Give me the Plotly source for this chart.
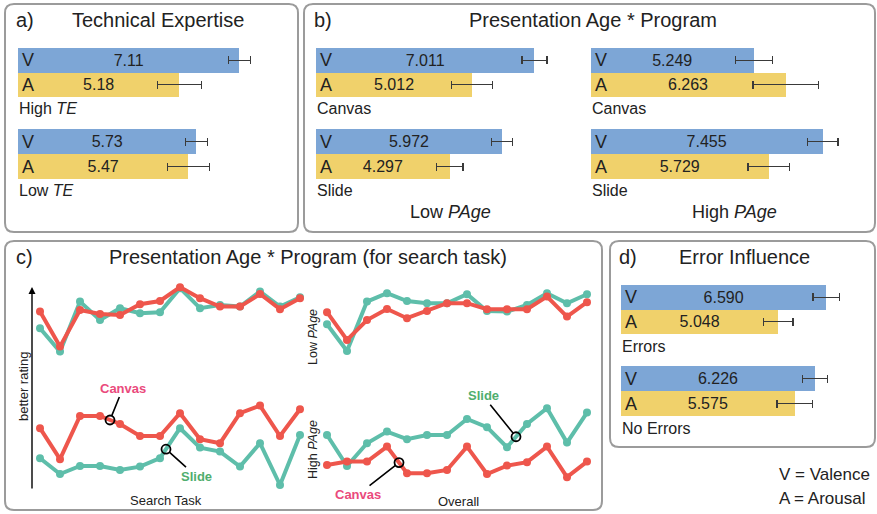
import numpy as np
import plotly.graph_objects as go

# ---------------- DATA ----------------
te_groups = ["High <i>TE</i>", "Low <i>TE</i>"]
te_valence = [7.11, 5.73]
te_arousal = [5.18, 5.47]
te_valence_err = [0.35, 0.35]
te_arousal_err = [0.70, 0.68]

page_programs = ["Canvas", "Slide"]
low_page_valence = [7.011, 5.972]
low_page_arousal = [5.012, 4.297]
low_page_valence_err = [0.40, 0.33]
low_page_arousal_err = [0.66, 0.42]
high_page_valence = [5.249, 7.455]
high_page_arousal = [6.263, 5.729]
high_page_valence_err = [0.60, 0.49]
high_page_arousal_err = [1.05, 0.67]

err_groups = ["Errors", "No Errors"]
err_valence = [6.590, 6.226]
err_arousal = [5.048, 5.575]
err_valence_err = [0.43, 0.41]
err_arousal_err = [0.47, 0.57]

tasks = list(range(1, 15))
search_low_slide = [8.59, 7.42, 9.92, 9.00, 9.59, 9.34, 9.39, 10.59, 9.59, 9.75, 9.67, 10.42, 9.67, 10.14]
search_low_canvas = [9.42, 7.67, 9.50, 9.30, 9.25, 9.79, 9.95, 10.64, 10.09, 9.67, 9.67, 10.30, 9.54, 10.09]
search_high_slide = [2.09, 1.30, 1.70, 1.70, 1.50, 1.67, 2.09, 3.59, 2.62, 2.42, 1.67, 2.84, 0.75, 3.25]
search_high_canvas = [3.59, 2.04, 4.20, 4.20, 3.80, 3.20, 3.20, 4.34, 3.04, 2.84, 4.34, 4.72, 3.20, 4.54]

overall_low_slide = [8.79, 7.45, 9.92, 10.34, 9.95, 9.84, 9.84, 10.29, 9.45, 9.42, 9.75, 10.34, 9.84, 10.29]
overall_low_canvas = [9.39, 8.00, 9.00, 9.55, 9.09, 9.45, 9.84, 9.84, 9.54, 9.54, 9.54, 10.17, 9.17, 9.89]
overall_high_slide = [3.25, 1.70, 2.84, 3.42, 3.04, 3.25, 3.25, 4.05, 3.64, 2.64, 3.80, 4.59, 2.87, 4.37]
overall_high_canvas = [1.75, 1.92, 1.92, 2.67, 1.34, 1.34, 1.50, 2.67, 1.30, 1.72, 1.89, 2.67, 1.14, 1.92]

# ---------------- STYLE ----------------
W, H = 877, 514
FONT = "Liberation Sans, Arial, Helvetica, sans-serif"
TXT = "#222222"
BLUE = "#7da6d6"
YELLOW = "#f0d16b"
TEAL = "#5ebeaa"
RED = "#ee564c"
PINK = "#ea4a7c"
GREEN = "#4fae6e"
BORDER = "#9b9b9b"
PXU = 31.15  # pixels per rating unit for the bar panels


def X(x):
    return x / W


def Y(y):
    return 1 - y / H


fig = go.Figure()
layout = {}
annotations = []
shapes = []
n_ax = [0]


def rrect(x0, y0, x1, y1, r=9):
    return (f"M {X(x0+r)},{Y(y0)} L {X(x1-r)},{Y(y0)} Q {X(x1)},{Y(y0)} {X(x1)},{Y(y0+r)} "
            f"L {X(x1)},{Y(y1-r)} Q {X(x1)},{Y(y1)} {X(x1-r)},{Y(y1)} "
            f"L {X(x0+r)},{Y(y1)} Q {X(x0)},{Y(y1)} {X(x0)},{Y(y1-r)} "
            f"L {X(x0)},{Y(y0+r)} Q {X(x0)},{Y(y0)} {X(x0+r)},{Y(y0)} Z")


def new_axes():
    n_ax[0] += 1
    n = n_ax[0]
    sfx = "" if n == 1 else str(n)
    return n, "x" + sfx, "y" + sfx, "xaxis" + sfx, "yaxis" + sfx


def text(x, y, s, size=16, xanchor="left", color=TXT, angle=0, xref="paper", yref="paper"):
    annotations.append(dict(x=x, y=y, xref=xref, yref=yref, text=s, showarrow=False,
                            xanchor=xanchor, yanchor="middle", textangle=angle,
                            font=dict(family=FONT, size=size, color=color)))


def bar_group(x0, x1, y0, y1, v, a, ve, ae, dec, label, label_y):
    n, xa, ya, xk, yk = new_axes()
    fig.add_trace(go.Bar(
        y=["V", "A"], x=[v, a], orientation="h", width=[1, 1],
        marker=dict(color=[BLUE, YELLOW], line=dict(width=0)),
        error_x=dict(type="data", array=[ve, ae], color="#3a3a3a", thickness=1.3, width=4),
        text=[f"{v:.{dec}f}", f"{a:.{dec}f}"], textposition="inside",
        insidetextanchor="middle", textangle=0,
        textfont=dict(family=FONT, size=16, color=TXT),
        xaxis=xa, yaxis=ya, showlegend=False, hoverinfo="skip"))
    layout[xk] = dict(domain=[X(x0), X(x1)], range=[0, (x1 - x0) / PXU], visible=False,
                      anchor=ya, fixedrange=True)
    layout[yk] = dict(domain=[Y(y1), Y(y0)], range=[1.5, -0.5], visible=False,
                      anchor=xa, fixedrange=True, type="category")
    for c in ["V", "A"]:
        annotations.append(dict(x=0, y=c, xref=xa, yref=ya, text=c, showarrow=False,
                                xanchor="left", yanchor="middle", xshift=2,
                                font=dict(family=FONT, size=18, color=TXT)))
    text(X(x0 - 1), Y(label_y), label, size=16)


# ---------------- PANEL BOXES ----------------
for bx in [(5, 4, 298, 232), (304, 4, 875, 232), (5, 241, 602, 510), (610, 241, 875, 447)]:
    shapes.append(dict(type="path", path=rrect(*bx), xref="paper", yref="paper",
                       line=dict(color=BORDER, width=2), fillcolor="white", layer="below"))

# ---------------- PANEL a ----------------
text(X(14), Y(20), "a)", size=20)
text(X(158), Y(20), "Technical Expertise", size=20, xanchor="center")
bar_group(18, 292, 48, 97, te_valence[0], te_arousal[0], te_valence_err[0], te_arousal_err[0], 2, te_groups[0], 108)
bar_group(18, 292, 129, 179, te_valence[1], te_arousal[1], te_valence_err[1], te_arousal_err[1], 2, te_groups[1], 190)

# ---------------- PANEL b ----------------
text(X(312), Y(20), "b)", size=20)
text(X(593), Y(20), "Presentation Age * Program", size=20, xanchor="center")
bar_group(316, 585, 48, 97, low_page_valence[0], low_page_arousal[0], low_page_valence_err[0], low_page_arousal_err[0], 3, page_programs[0], 108)
bar_group(316, 585, 129, 179, low_page_valence[1], low_page_arousal[1], low_page_valence_err[1], low_page_arousal_err[1], 3, page_programs[1], 190)
bar_group(590.5, 868, 48, 97, high_page_valence[0], high_page_arousal[0], high_page_valence_err[0], high_page_arousal_err[0], 3, page_programs[0], 108)
bar_group(590.5, 868, 129, 179, high_page_valence[1], high_page_arousal[1], high_page_valence_err[1], high_page_arousal_err[1], 3, page_programs[1], 190)
text(X(450), Y(212), "Low <i>PAge</i>", size=18, xanchor="center")
text(X(734), Y(212), "High <i>PAge</i>", size=18, xanchor="center")

# ---------------- PANEL d ----------------
text(X(617), Y(257), "d)", size=20)
text(X(744), Y(257), "Error Influence", size=20, xanchor="center")
bar_group(621, 868, 285, 334, err_valence[0], err_arousal[0], err_valence_err[0], err_arousal_err[0], 3, err_groups[0], 346)
bar_group(621, 868, 366, 416, err_valence[1], err_arousal[1], err_valence_err[1], err_arousal_err[1], 3, err_groups[1], 428)
text(X(777), Y(474), "V = Valence", size=17)
text(X(777), Y(498), "A = Arousal", size=17)

# ---------------- PANEL c ----------------
text(X(14), Y(257), "c)", size=20)
text(X(308), Y(257), "Presentation Age * Program (for search task)", size=20, xanchor="center")


def line_panel(x0, x1, series, callouts):
    n, xa, ya, xk, yk = new_axes()
    for vals, col in series:
        fig.add_trace(go.Scatter(x=tasks, y=vals, mode="lines+markers", xaxis=xa, yaxis=ya,
                                 line=dict(color=col, width=4), marker=dict(color=col, size=8),
                                 showlegend=False, hoverinfo="skip", cliponaxis=False))
    layout[xk] = dict(domain=[X(x0), X(x1)], range=[0.7, 14.3], visible=False, anchor=ya, fixedrange=True)
    layout[yk] = dict(domain=[Y(490), Y(280)], range=[0.5, 11.0], visible=False, anchor=xa, fixedrange=True)
    for xpos, vals, label, col, ax, ay in callouts:
        yv = float(np.interp(xpos, tasks, vals))
        fig.add_trace(go.Scatter(x=[xpos], y=[yv], mode="markers", xaxis=xa, yaxis=ya,
                                 marker=dict(symbol="circle-open", size=9, color="black",
                                             line=dict(width=1.8, color="black")),
                                 showlegend=False, hoverinfo="skip", cliponaxis=False))
        annotations.append(dict(x=xpos, y=yv, xref=xa, yref=ya, ax=ax, ay=ay,
                                text=f"<b>{label}</b>", showarrow=True, arrowhead=0,
                                arrowwidth=1.6, arrowcolor="black", standoff=4.5,
                                font=dict(family=FONT, size=13, color=col)))


line_panel(34, 306,
           [(search_low_slide, TEAL), (search_low_canvas, RED),
            (search_high_slide, TEAL), (search_high_canvas, RED)],
           [(4.5, search_high_canvas, "Canvas", PINK, 13, -32),
            (7.3, search_high_slide, "Slide", GREEN, 30, 27)])
line_panel(321, 593,
           [(overall_low_slide, TEAL), (overall_low_canvas, RED),
            (overall_high_slide, TEAL), (overall_high_canvas, RED)],
           [(10.45, overall_high_slide, "Slide", GREEN, -33, -41),
            (4.6, overall_high_canvas, "Canvas", PINK, -41, 32)])

# y arrow and labels
annotations.append(dict(x=X(32), y=Y(287), xref="paper", yref="paper", ax=0, ay=203,
                        text="", showarrow=True, arrowhead=2, arrowsize=1, arrowwidth=1.4,
                        arrowcolor="black"))
text(X(23), Y(387), "better rating", size=13, xanchor="center", angle=-90)
text(X(166), Y(500), "Search Task", size=13, xanchor="center")
text(X(458), Y(501), "Overall", size=13, xanchor="center")
text(X(313), Y(337), "Low <i>PAge</i>", size=12.5, xanchor="center", angle=-90)
text(X(313), Y(450), "High <i>PAge</i>", size=12.5, xanchor="center", angle=-90)

layout.update(dict(width=W, height=H, margin=dict(l=0, r=0, t=0, b=0),
                   paper_bgcolor="white", plot_bgcolor="rgba(0,0,0,0)",
                   showlegend=False, bargap=0, annotations=annotations, shapes=shapes,
                   font=dict(family=FONT, color=TXT)))
fig.update_layout(**layout)
fig.write_html("out.html", config={"displayModeBar": False, "staticPlot": True},
               post_script="document.body.style.margin='0';document.body.style.overflow='hidden';")
